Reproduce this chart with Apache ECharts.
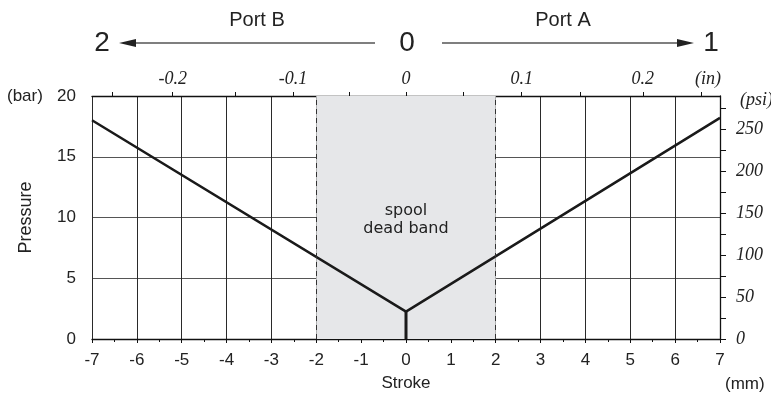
<!DOCTYPE html>
<html>
<head>
<meta charset="utf-8">
<script src="https://cdn.jsdelivr.net/npm/echarts@6/dist/echarts.min.js"></script>
<style>
html,body{margin:0;padding:0;background:#fff;}
#c{width:771px;height:394px;}
</style>
</head>
<body>
<div id="c"></div>
<script>
// ---- data ----
const strokeMm = [-7, 0, 7];
const pressureBar = [18.0, 2.25, 18.2];
const stemMm = [0, 0];
const stemBar = [0, 2.25];
const deadBandMm = [-2, 2];
const strokeRange = [-7, 7];
const pressureRange = [0, 20];
const barToPsi = 14.5038;
const inchTickMm = [-6.55, -5.2, -3.8, -2.52, -1.27, 0, 1.27, 2.58, 3.88, 5.28, 6.59];
const inchLabelMm = [-5.2, -2.52, 0, 2.58, 5.28];
const inchLabels = ['-0.2', '-0.1', '0', '0.1', '0.2'];
const psiTicks = [0, 25, 50, 75, 100, 125, 150, 175, 200, 225, 250, 275];
const psiLabels = [0, 50, 100, 150, 200, 250];
const spoolText = 'spool\ndead band';

const SANS = '"Liberation Sans", Arial, Helvetica, sans-serif';
const SERIF = '"Liberation Serif", "Times New Roman", serif';

const chart = echarts.init(document.getElementById('c'), null, {renderer: 'canvas'});

const line = strokeMm.map((x, i) => [x, pressureBar[i]]);
const stem = stemMm.map((x, i) => [x, stemBar[i]]);

const arrowY = 43;
const option = {
  animation: false,
  backgroundColor: '#fff',
  grid: {left: 92, right: 51, top: 96, bottom: 55, containLabel: false, outerBoundsMode: 'none'},
  xAxis: [
    {
      type: 'value', position: 'bottom', min: strokeRange[0], max: strokeRange[1], interval: 1,
      name: 'Stroke', nameLocation: 'middle', nameGap: 36,
      nameTextStyle: {fontFamily: SANS, fontSize: 17, color: '#222'},
      axisLine: {show: true, lineStyle: {color: '#111', width: 1.3}},
      axisTick: {show: true, length: 4, lineStyle: {color: '#111'}},
      minorTick: {show: true, splitNumber: 2, length: 3, lineStyle: {color: '#111'}},
      axisLabel: {fontFamily: SANS, fontSize: 17, color: '#222', margin: 13},
      splitLine: {show: true, lineStyle: {color: '#2a2a2a', width: 1}}
    },
    {
      type: 'value', position: 'top', min: strokeRange[0], max: strokeRange[1],
      axisLine: {show: true, onZero: false, lineStyle: {color: '#111', width: 1.3}},
      axisTick: {show: true, length: 4, customValues: inchTickMm, lineStyle: {color: '#111'}},
      axisLabel: {
        customValues: inchLabelMm,
        fontFamily: SERIF, fontStyle: 'italic', fontSize: 18, color: '#222', margin: 8,
        formatter: function (v) {
          let best = 0;
          for (let i = 0; i < inchLabelMm.length; i++) {
            if (Math.abs(inchLabelMm[i] - v) < Math.abs(inchLabelMm[best] - v)) best = i;
          }
          return inchLabels[best];
        }
      },
      splitLine: {show: false}
    }
  ],
  yAxis: [
    {
      type: 'value', position: 'left', min: pressureRange[0], max: pressureRange[1], interval: 5,
      name: 'Pressure', nameLocation: 'middle', nameGap: 57,
      nameTextStyle: {fontFamily: SANS, fontSize: 18, color: '#222'},
      axisLine: {show: true, lineStyle: {color: '#111', width: 1.3}},
      axisTick: {show: true, length: 9, lineStyle: {color: '#111'}},
      minorTick: {show: true, splitNumber: 2, length: 9, lineStyle: {color: '#111'}},
      axisLabel: {fontFamily: SANS, fontSize: 17, color: '#222', margin: 16},
      splitLine: {show: true, lineStyle: {color: '#555', width: 1}}
    },
    {
      type: 'value', position: 'right', min: 0, max: pressureRange[1] * barToPsi,
      axisLine: {show: true, onZero: false, lineStyle: {color: '#111', width: 1.3}},
      axisTick: {show: true, length: 6, customValues: psiTicks, lineStyle: {color: '#111'}},
      axisLabel: {customValues: psiLabels, fontFamily: SERIF, fontStyle: 'italic', fontSize: 18, color: '#222', margin: 16},
      splitLine: {show: false}
    }
  ],
  series: [
    {
      type: 'line', name: 'band', data: [[0, 0]], symbol: 'none', z: -1,
      lineStyle: {width: 0, opacity: 0}, silent: true,
      markArea: {
        silent: true,
        itemStyle: {color: '#e6e7e9'},
        label: {show: true, position: 'inside', formatter: spoolText,
          fontFamily: '"DejaVu Sans", Verdana, sans-serif', fontSize: 16, lineHeight: 18, color: '#222',
          offset: [0, 2]},
        data: [[{xAxis: deadBandMm[0]}, {xAxis: deadBandMm[1]}]]
      }
    },
    {
      type: 'line', name: 'pressure', data: line, symbol: 'none', z: 3,
      lineStyle: {color: '#1a1a1a', width: 2.5},
      markLine: {
        silent: true, symbol: ['none', 'none'], label: {show: false},
        lineStyle: {color: '#333', type: [5, 4], width: 1},
        data: deadBandMm.map(v => ({xAxis: v}))
      }
    },
    {
      type: 'line', name: 'stem', data: stem, symbol: 'none', z: 4,
      lineStyle: {color: '#1a1a1a', width: 3}
    }
  ],
  graphic: [
    {type: 'text', x: 7, y: 96, style: {text: '(bar)', font: '17px ' + SANS, fill: '#222', verticalAlign: 'middle'}},
    {type: 'text', x: 725, y: 384, style: {text: '(mm)', font: '17px ' + SANS, fill: '#222', verticalAlign: 'middle'}},
    {type: 'text', x: 695, y: 79, style: {text: '(in)', font: 'italic 18px ' + SERIF, fill: '#222', verticalAlign: 'middle'}},
    {type: 'text', x: 740, y: 100, style: {text: '(psi)', font: 'italic 18px ' + SERIF, fill: '#222', verticalAlign: 'middle'}},
    {type: 'text', x: 257, y: 20, style: {text: 'Port B', font: '20px ' + SANS, fill: '#222', align: 'center', verticalAlign: 'middle'}},
    {type: 'text', x: 563, y: 20, style: {text: 'Port A', font: '20px ' + SANS, fill: '#222', align: 'center', verticalAlign: 'middle'}},
    {type: 'text', x: 102, y: arrowY, style: {text: '2', font: '28px ' + SANS, fill: '#222', align: 'center', verticalAlign: 'middle'}},
    {type: 'text', x: 407, y: arrowY, style: {text: '0', font: '28px ' + SANS, fill: '#222', align: 'center', verticalAlign: 'middle'}},
    {type: 'text', x: 711, y: arrowY, style: {text: '1', font: '28px ' + SANS, fill: '#222', align: 'center', verticalAlign: 'middle'}},
    {type: 'line', shape: {x1: 134, y1: arrowY, x2: 375, y2: arrowY}, style: {stroke: '#555', lineWidth: 1.5}},
    {type: 'polygon', shape: {points: [[119, arrowY], [136, arrowY - 4], [136, arrowY + 4]]}, style: {fill: '#222'}},
    {type: 'line', shape: {x1: 442, y1: arrowY, x2: 680, y2: arrowY}, style: {stroke: '#555', lineWidth: 1.5}},
    {type: 'polygon', shape: {points: [[694, arrowY], [677, arrowY - 4], [677, arrowY + 4]]}, style: {fill: '#222'}}
  ]
};
chart.setOption(option);
</script>
</body>
</html>
